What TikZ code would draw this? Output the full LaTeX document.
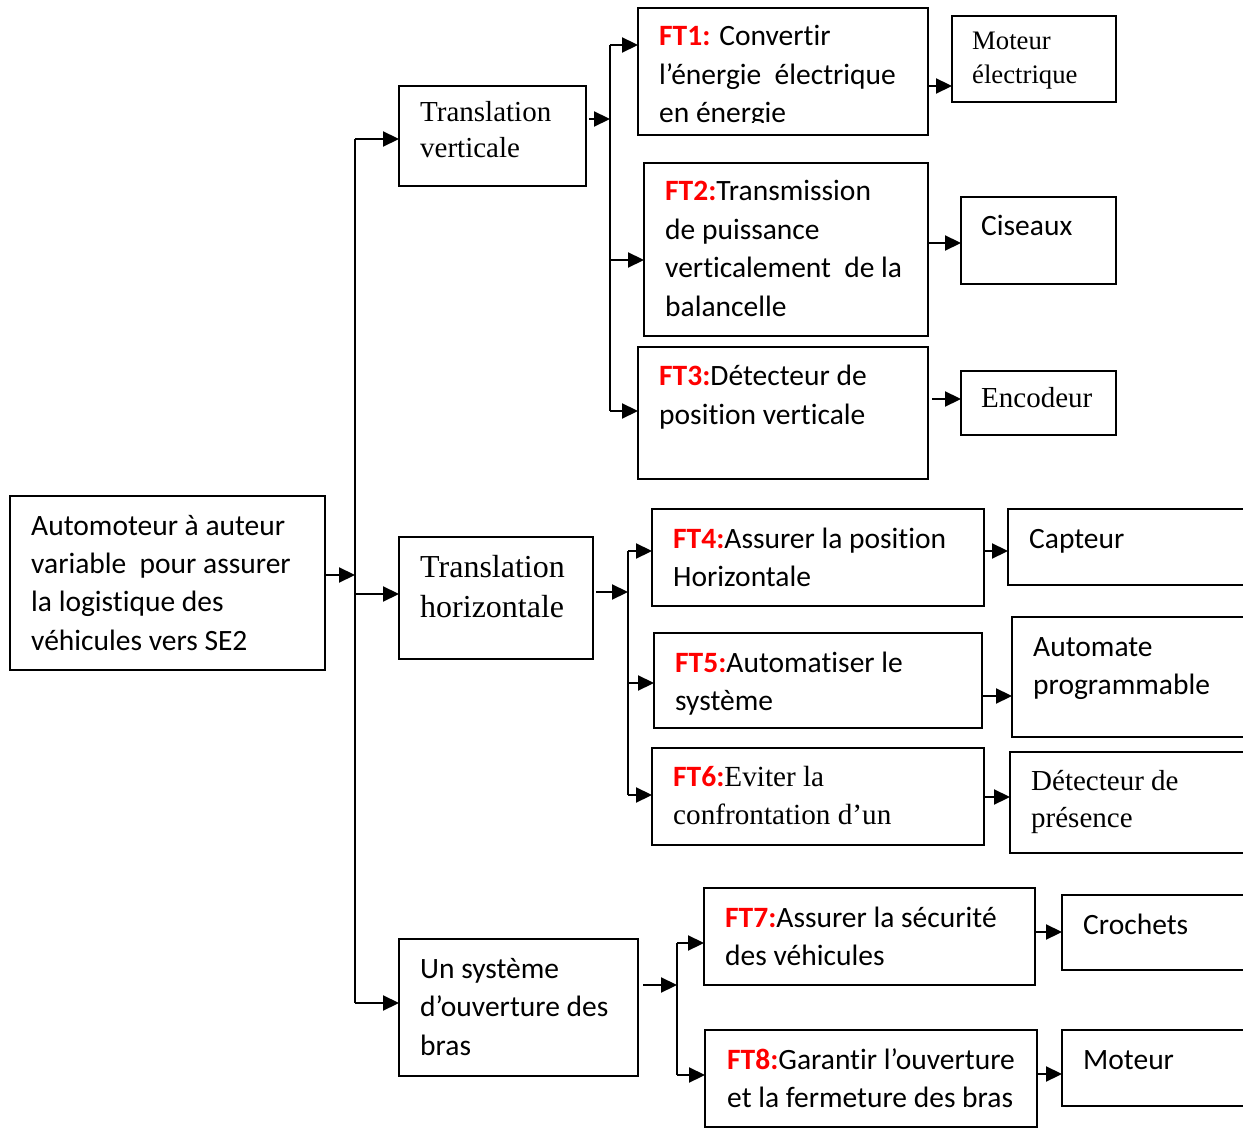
\documentclass[tikz,border=0pt]{standalone}
\usepackage{fontspec}
\setmainfont[Ligatures=NoCommon]{Carlito}
\newfontfamily\tms{Liberation Serif}
\usetikzlibrary{arrows.meta}
\definecolor{ftred}{RGB}{255,0,0}
% red bold function label
\newcommand{\ft}[1]{{\bfseries\color{ftred}#1}}
% left-aligned stack of lines, baseline on the first line
\newcommand{\lns}[1]{\vtop{\halign{##\hfil\cr#1\crcr}}}
% box from (x1,y1) to (x2,y2)
\newcommand{\mkbox}[5]{\node[box, minimum width={(#4-#2)*1pt}, minimum height={(#5-#3)*1pt}] (#1) at (#2,#3) {};}

\begin{document}
\begin{tikzpicture}[x=1pt,y=-1pt,
  box/.style={draw, line width=2.2pt, inner sep=0pt, outer sep=0pt, anchor=north west},
  txt/.style={anchor=base west, inner sep=0pt},
  cal/.style={font=\fontsize{29.5}{38.5}\selectfont},
  cal6/.style={font=\fontsize{29.5}{38}\selectfont},
  tmsA/.style={font=\tms\fontsize{29}{36}\selectfont},
  tmsB/.style={font=\tms\fontsize{32}{40}\selectfont},
  tmsC/.style={font=\tms\fontsize{26.7}{34}\selectfont},
  tmsD/.style={font=\tms\fontsize{29}{37}\selectfont},
  bus/.style={line width=2.2pt},
  arr/.style={line width=2.2pt, -{Triangle[length=16pt,width=15pt]}}]

\useasboundingbox (0,0) rectangle (1243,1131);
\clip (0,0) rectangle (1243,1131);

% ---- boxes ----
\mkbox{root}{10}{496}{325}{670}
\mkbox{tv}{399}{86}{586}{186}
\mkbox{th}{399}{537}{593}{659}
\mkbox{us}{399}{939}{638}{1076}
\mkbox{ft1}{638}{8}{928}{135}
\mkbox{ft2}{644}{163}{928}{336}
\mkbox{ft3}{638}{347}{928}{479}
\mkbox{ft4}{652}{509}{984}{606}
\mkbox{ft5}{654}{633}{982}{728}
\mkbox{ft6}{652}{748}{984}{845}
\mkbox{ft7}{704}{888}{1035}{985}
\mkbox{ft8}{705}{1030}{1037}{1127}
\mkbox{mel}{952}{16}{1116}{102}
\mkbox{cis}{961}{197}{1116}{284}
\mkbox{enc}{961}{371}{1116}{435}
\mkbox{cap}{1008}{509}{1262}{585}
\mkbox{aut}{1012}{617}{1262}{737}
\mkbox{dp}{1010}{752}{1262}{853}
\mkbox{cro}{1062}{895}{1262}{970}
\mkbox{mot}{1062}{1030}{1262}{1106}

% ---- texts ----
\node[txt,cal] (root-t) at (31,535) {\lns{Automoteur à auteur\cr variable\ \ pour assurer\cr la logistique des\cr véhicules vers SE2}};
\node[txt,tmsA] (tv-t) at (420,122) {\lns{Translation\cr verticale}};
\node[txt,tmsB] (th-t) at (420,577) {\lns{Translation\cr horizontale}};
\node[txt,cal] (us-t) at (420,978) {\lns{Un système\cr d’ouverture des\cr bras}};
\begin{scope}
  \clip (638,8) rectangle (928,123);
  \node[txt,cal] (ft1-t) at (659,46) {\lns{\ft{FT1:} Convertir\cr l’énergie\ \ électrique\cr en énergie}};
\end{scope}
\node[txt,cal] (ft2-t) at (665,201) {\lns{\ft{FT2:}Transmission\cr de puissance\cr verticalement\ \ de la\cr balancelle}};
\node[txt,cal] (ft3-t) at (659,386) {\lns{\ft{FT3:}Détecteur de\cr position verticale}};
\node[txt,cal6] (ft4-t) at (673,548) {\lns{\ft{FT4:}Assurer la position\cr Horizontale}};
\node[txt,cal] (ft5-t) at (675,672) {\lns{\ft{FT5:}Automatiser le\cr système}};
\node[txt,cal6] (ft6-t) at (673,786) {\lns{\ft{FT6:}{\tms\fontsize{29.2}{38}\selectfont Eviter la}\cr {\tms\fontsize{29.2}{38}\selectfont confrontation d’un}}};
\node[txt,cal6] (ft7-t) at (725,927) {\lns{\ft{FT7:}Assurer la sécurité\cr des véhicules}};
\node[txt,cal6] (ft8-t) at (727,1069) {\lns{\ft{FT8:}Garantir l’ouverture\cr et la fermeture des bras}};
\node[txt,tmsC] (mel-t) at (972,50) {\lns{Moteur\cr électrique}};
\node[txt,cal] (cis-t) at (981,236) {Ciseaux};
\node[txt,tmsA] (enc-t) at (981,408) {Encodeur};
\node[txt,cal] (cap-t) at (1029,548) {Capteur};
\node[txt,cal] (aut-t) at (1033,656) {\lns{Automate\cr programmable}};
\node[txt,tmsD] (dp-t) at (1031,790) {\lns{Détecteur de\cr présence}};
\node[txt,cal] (cro-t) at (1083,934) {Crochets};
\node[txt,cal] (mot-t) at (1083,1069) {Moteur};

% ---- main trunk ----
\coordinate (t0) at (355,139);
\coordinate (t1) at (355,1003);
\coordinate (tm) at (355,575);
\draw[bus] (t0) -- (t1);
\draw[arr] (root.east |- tm) -- (tm);
\draw[arr] (t0) -- (tv.west |- t0);
\draw[arr] (355,594) -- (th.west |- 0,594);
\draw[arr] (t1) -- (us.west |- t1);

% ---- vertical translation branch ----
\coordinate (v0) at (610,45);
\coordinate (v1) at (610,411);
\draw[bus] (v0) -- (v1);
\draw[arr] ([xshift=3pt]tv.east |- 0,119) -- (610,119);
\draw[arr] (v0) -- (ft1.west |- v0);
\draw[arr] (610,260) -- (ft2.west |- 0,260);
\draw[arr] (v1) -- (ft3.west |- v1);
\draw[arr] (ft1.east |- 0,86) -- (mel.west |- 0,86);
\draw[arr] (ft2.east |- 0,243) -- (cis.west |- 0,243);
\draw[arr] ([xshift=4pt]ft3.east |- 0,399) -- (enc.west |- 0,399);

% ---- horizontal translation branch ----
\coordinate (h0) at (628,551);
\coordinate (h1) at (628,795);
\draw[bus] (h0) -- (h1);
\draw[arr] ([xshift=3pt]th.east |- 0,592) -- (628,592);
\draw[arr] (h0) -- (ft4.west |- h0);
\draw[arr] (628,683) -- (ft5.west |- 0,683);
\draw[arr] (h1) -- (ft6.west |- h1);
\draw[arr] (ft4.east |- 0,551) -- (cap.west |- 0,551);
\draw[arr] (ft5.east |- 0,696) -- (aut.west |- 0,696);
\draw[arr] (ft6.east |- 0,797) -- (dp.west |- 0,797);

% ---- arm opening branch ----
\coordinate (a0) at (677,943);
\coordinate (a1) at (677,1075);
\draw[bus] (a0) -- (a1);
\draw[arr] ([xshift=5pt]us.east |- 0,985) -- (677,985);
\draw[arr] (a0) -- (ft7.west |- a0);
\draw[arr] (a1) -- (ft8.west |- a1);
\draw[arr] (ft7.east |- 0,932) -- (cro.west |- 0,932);
\draw[arr] (ft8.east |- 0,1074) -- (mot.west |- 0,1074);
\end{tikzpicture}
\end{document}
